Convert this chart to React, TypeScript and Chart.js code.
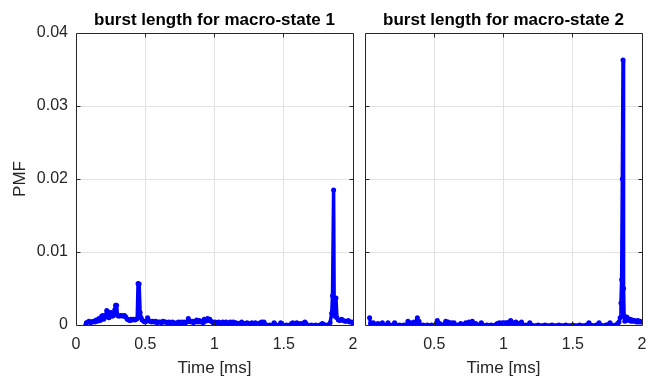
import React, { useEffect, useRef } from "react";
import { Chart, registerables } from "chart.js";

Chart.register(...registerables);

const FONT = "'Liberation Sans', Arial, Helvetica, sans-serif";
const AXIS_COLOR = "#262626";
const GRID_COLOR = "#e2e2e2";
const LINE_COLOR = "#0000ff";

// Burst-length PMF, macro-state 1 (time in ms, probability mass)
const state1Times = [
  0.070, 0.075, 0.085, 0.095, 0.105, 0.115, 0.125, 0.135, 0.145, 0.155,
  0.165, 0.175, 0.185, 0.193, 0.200, 0.210, 0.222, 0.230, 0.238, 0.245,
  0.253, 0.262, 0.270, 0.280, 0.286, 0.293, 0.300, 0.310, 0.320, 0.330,
  0.340, 0.350, 0.360, 0.370, 0.380, 0.390, 0.397, 0.405, 0.415, 0.425,
  0.435, 0.442, 0.448, 0.456, 0.463, 0.470, 0.478, 0.488, 0.498, 0.508,
  0.517, 0.526, 0.535, 0.545, 0.555, 0.565, 0.575, 0.585, 0.595, 0.606,
  0.617, 0.628, 0.638, 0.648, 0.660, 0.672, 0.684, 0.696, 0.708, 0.718,
  0.730, 0.740, 0.750, 0.760, 0.770, 0.780, 0.790, 0.800, 0.811, 0.820,
  0.830, 0.840, 0.850, 0.860, 0.871, 0.880, 0.890, 0.900, 0.910, 0.918,
  0.926, 0.935, 0.943, 0.950, 0.958, 0.966, 0.975, 0.985, 0.995, 1.004,
  1.012, 1.020, 1.030, 1.040, 1.050, 1.060, 1.070, 1.083, 1.095, 1.105,
  1.115, 1.125, 1.136, 1.145, 1.155, 1.165, 1.175, 1.185, 1.196, 1.205,
  1.220, 1.235, 1.245, 1.256, 1.270, 1.280, 1.295, 1.310, 1.320, 1.330,
  1.341, 1.350, 1.357, 1.365, 1.375, 1.400, 1.420, 1.430, 1.437, 1.445,
  1.470, 1.478, 1.485, 1.495, 1.520, 1.545, 1.557, 1.565, 1.575, 1.585,
  1.594, 1.605, 1.620, 1.635, 1.645, 1.653, 1.660, 1.670, 1.700, 1.730,
  1.760, 1.778, 1.786, 1.800, 1.820, 1.835, 1.846, 1.852, 1.860, 1.864,
  1.870, 1.877, 1.884, 1.894, 1.905, 1.918, 1.930, 1.942, 1.954, 1.966,
  1.978, 1.990, 1.998,
];
const state1Pmf = [
  0, 0.0003, 0.0004, 0.0005, 0.0003, 0.0004, 0.0005, 0.0004, 0.0007, 0.0005,
  0.0009, 0.0006, 0.0012, 0.0013, 0.0008, 0.0011, 0.0020, 0.0018, 0.0010, 0.0014,
  0.0017, 0.0012, 0.0013, 0.0021, 0.0027, 0.0027, 0.0013, 0.0012, 0.0013, 0.0013,
  0.0012, 0.0013, 0.0011, 0.0008, 0.0007, 0.0006, 0.0008, 0.0007, 0.0008, 0.0007,
  0.0008, 0.0009, 0.0057, 0.0056, 0.0017, 0.0010, 0.0007, 0.0005, 0.0004, 0.0005,
  0.0010, 0.0006, 0.0005, 0.0004, 0.0005, 0.0004, 0.0005, 0.0003, 0.0004, 0.0004,
  0.0003, 0.0005, 0.0004, 0.0004, 0.0003, 0.0004, 0.0003, 0.0004, 0.0003, 0.0001,
  0.0003, 0.0004, 0.0003, 0.0004, 0.0002, 0.0004, 0.0003, 0.0004, 0.0009, 0.0005,
  0.0004, 0.0005, 0.0003, 0.0005, 0.0007, 0.0004, 0.0006, 0.0004, 0.0005, 0.0003,
  0.0008, 0.0005, 0.0007, 0.0009, 0.0006, 0.0008, 0.0005, 0.0004, 0.0002, 0.0004,
  0.0002, 0.0003, 0.0004, 0.0001, 0.0003, 0.0004, 0.0002, 0.0004, 0.0002, 0.0003,
  0.0004, 0.0003, 0.0004, 0.0002, 0.0003, 0.0001, 0.0002, 0.0001, 0.0004, 0.0002,
  0.0002, 0.0003, 0.0001, 0.0002, 0.0003, 0.0001, 0.0003, 0.0001, 0.0002, 0.0003,
  0.0004, 0.0002, 0.0004, 0.0001, 0, 0, 0, 0.0003, 0.0001, 0,
  0, 0.0003, 0.0001, 0, 0, 0, 0.0002, 0.0003, 0.0001, 0.0002,
  0.0003, 0.0001, 0.0002, 0.0001, 0.0003, 0.0004, 0.0002, 0, 0, 0,
  0, 0.0002, 0.0001, 0, 0, 0.0003, 0.0016, 0.0040, 0.0185, 0.0030,
  0.0012, 0.0037, 0.0010, 0.0007, 0.0006, 0.0008, 0.0006, 0.0005, 0.0005, 0.0006,
  0.0004, 0.0004, 0.0003,
];

// Burst-length PMF, macro-state 2
const state2Times = [
  0.033, 0.040, 0.050, 0.060, 0.070, 0.080, 0.094, 0.105, 0.125, 0.135,
  0.155, 0.166, 0.178, 0.200, 0.214, 0.225, 0.250, 0.280, 0.300, 0.310,
  0.320, 0.330, 0.340, 0.354, 0.365, 0.378, 0.385, 0.390, 0.398, 0.420,
  0.450, 0.480, 0.510, 0.522, 0.530, 0.540, 0.550, 0.565, 0.583, 0.592,
  0.600, 0.610, 0.624, 0.634, 0.643, 0.652, 0.670, 0.691, 0.700, 0.715,
  0.727, 0.735, 0.751, 0.760, 0.775, 0.785, 0.800, 0.810, 0.825, 0.840,
  0.850, 0.880, 0.910, 0.940, 0.955, 0.962, 0.970, 0.978, 0.985, 0.992,
  1.000, 1.008, 1.016, 1.024, 1.032, 1.040, 1.052, 1.060, 1.070, 1.080,
  1.090, 1.100, 1.110, 1.120, 1.130, 1.140, 1.160, 1.180, 1.190, 1.200,
  1.250, 1.300, 1.350, 1.400, 1.450, 1.500, 1.550, 1.600, 1.617, 1.630,
  1.670, 1.690, 1.700, 1.740, 1.769, 1.780, 1.810, 1.825, 1.834, 1.842,
  1.848, 1.853, 1.858, 1.863, 1.867, 1.871, 1.876, 1.882, 1.890, 1.898,
  1.906, 1.914, 1.922, 1.930, 1.938, 1.946, 1.954, 1.962, 1.970, 1.978,
  1.986, 1.994,
];
const state2Pmf = [
  0.0010, 0.0002, 0.0001, 0.0003, 0.0001, 0, 0.0002, 0, 0.0003, 0,
  0, 0.0003, 0, 0, 0.0003, 0, 0, 0, 0, 0.0005,
  0.0001, 0.0003, 0.0001, 0.0004, 0.0002, 0.0010, 0.0002, 0.0005, 0, 0,
  0, 0, 0, 0.0006, 0.0001, 0.0002, 0, 0, 0.0005, 0.0002,
  0.0004, 0.0001, 0.0003, 0.0001, 0.0003, 0, 0, 0.0002, 0, 0,
  0.0003, 0, 0.0004, 0.0001, 0.0005, 0.0001, 0.0002, 0, 0, 0.0003,
  0, 0, 0, 0, 0.0002, 0.0001, 0.0003, 0.0001, 0.0002, 0.0003,
  0.0001, 0.0003, 0.0002, 0.0003, 0.0001, 0.0004, 0.0006, 0.0002, 0.0003, 0.0001,
  0.0004, 0.0001, 0.0002, 0, 0.0004, 0, 0, 0, 0.0003, 0,
  0, 0, 0, 0, 0, 0, 0, 0, 0.0003, 0,
  0, 0.0003, 0, 0, 0.0003, 0, 0, 0.0002, 0.0004, 0.0010,
  0.0030, 0.0062, 0.0200, 0.0363, 0.0050, 0.0012, 0.0005, 0.0009, 0.0011, 0.0009,
  0.0006, 0.0008, 0.0005, 0.0007, 0.0005, 0.0006, 0.0005, 0.0004, 0.0006, 0.0004,
  0.0005, 0.0004,
];

const xMin = 0;
const xMax = 2;
const xStep = 0.5;
const yMin = 0;
const yMax = 0.04;
const yStep = 0.01;

const crisp = (v: number) => Math.floor(v) + 0.5;

// Box around the axes with inward-pointing tick marks on all four sides
const boxPlugin = {
  id: "axesBox",
  afterDatasetsDraw(chart: any) {
    const { ctx, chartArea: a, scales } = chart;
    const L = crisp(a.left);
    const R = crisp(a.right);
    const T = crisp(a.top);
    const B = crisp(a.bottom);
    const len = 4;
    ctx.save();
    ctx.strokeStyle = AXIS_COLOR;
    ctx.lineWidth = 1;
    ctx.beginPath();
    ctx.rect(L, T, R - L, B - T);
    for (const t of scales.x.ticks) {
      const px = crisp(scales.x.getPixelForValue(t.value));
      if (px <= L + 1 || px >= R - 1) continue;
      ctx.moveTo(px, B);
      ctx.lineTo(px, B - len);
      ctx.moveTo(px, T);
      ctx.lineTo(px, T + len);
    }
    for (const t of scales.y.ticks) {
      const py = crisp(scales.y.getPixelForValue(t.value));
      if (py <= T + 1 || py >= B - 1) continue;
      ctx.moveTo(L, py);
      ctx.lineTo(L + len, py);
      ctx.moveTo(R, py);
      ctx.lineTo(R - len, py);
    }
    ctx.stroke();
    ctx.restore();
  },
};

type PanelProps = {
  title: string;
  times: number[];
  pmf: number[];
  left: number;
  width: number;
  showYAxis: boolean;
  padLeft: number;
  padRight: number;
};

function Panel({ title, times, pmf, left, width, showYAxis, padLeft, padRight }: PanelProps) {
  const ref = useRef<HTMLCanvasElement | null>(null);

  useEffect(() => {
    if (!ref.current) return;
    const chart = new Chart(ref.current, {
      type: "line",
      data: {
        datasets: [
          {
            data: times.map((t, i) => ({ x: t, y: pmf[i] })),
            borderColor: LINE_COLOR,
            backgroundColor: LINE_COLOR,
            borderWidth: 3.5,
            pointRadius: 2.5,
            pointBorderWidth: 0,
            pointBackgroundColor: LINE_COLOR,
            borderJoinStyle: "round",
            borderCapStyle: "round",
            tension: 0,
            clip: 0,
          } as any,
        ],
      },
      options: {
        responsive: false,
        animation: false,
        events: [],
        layout: { padding: { left: 0, right: padRight, top: 0, bottom: 0 } },
        plugins: {
          legend: { display: false },
          tooltip: { enabled: false },
          title: {
            display: true,
            text: title,
            fullSize: false,
            color: "#000000",
            font: { family: FONT, size: 17, weight: "bold", lineHeight: 1.2 },
            padding: { top: 9.8, bottom: 2.8 },
          },
        },
        scales: {
          x: {
            type: "linear",
            min: xMin,
            max: xMax,
            afterFit: (s: any) => {
              s.height = 54;
            },
            // invisible tick marks keep the labels clear of the axis line
            grid: {
              color: GRID_COLOR,
              drawTicks: true,
              tickLength: 10.4,
              tickColor: "rgba(0,0,0,0)",
            },
            border: { display: false },
            ticks: {
              stepSize: xStep,
              color: AXIS_COLOR,
              padding: 0,
              maxRotation: 0,
              autoSkip: false,
              font: { family: FONT, size: 16 },
              callback: (v: any) => (!showYAxis && Number(v) === 0 ? "" : String(v)),
            },
            title: {
              display: true,
              text: "Time [ms]",
              color: AXIS_COLOR,
              font: { family: FONT, size: 17 },
              padding: { top: 0, bottom: 0.8 },
            },
          },
          y: {
            type: "linear",
            min: yMin,
            max: yMax,
            afterFit: (s: any) => {
              s.width = padLeft;
            },
            grid: { color: GRID_COLOR, drawTicks: false },
            border: { display: false },
            ticks: {
              display: showYAxis,
              stepSize: yStep,
              color: AXIS_COLOR,
              padding: 8,
              font: { family: FONT, size: 16 },
              callback: (v: any) => String(Math.round(Number(v) * 1000) / 1000),
            },
            title: {
              display: showYAxis,
              text: "PMF",
              color: AXIS_COLOR,
              font: { family: FONT, size: 17 },
              padding: { top: 10, bottom: 0 },
            },
          },
        },
      },
      plugins: [boxPlugin],
    });
    return () => chart.destroy();
  }, [title, times, pmf, showYAxis, padLeft, padRight]);

  return (
    <canvas
      ref={ref}
      width={width}
      height={379}
      style={{ position: "absolute", left, top: 0, width, height: 379 }}
    />
  );
}

export default function App() {
  return (
    <div
      style={{
        position: "fixed",
        left: 0,
        top: 0,
        width: 654,
        height: 379,
        background: "#ffffff",
        overflow: "hidden",
      }}
    >
      <Panel
        title="burst length for macro-state 1"
        times={state1Times}
        pmf={state1Pmf}
        left={0}
        width={359}
        showYAxis={true}
        padLeft={76}
        padRight={6}
      />
      <Panel
        title="burst length for macro-state 2"
        times={state2Times}
        pmf={state2Pmf}
        left={359}
        width={295}
        showYAxis={false}
        padLeft={6}
        padRight={12}
      />
    </div>
  );
}
